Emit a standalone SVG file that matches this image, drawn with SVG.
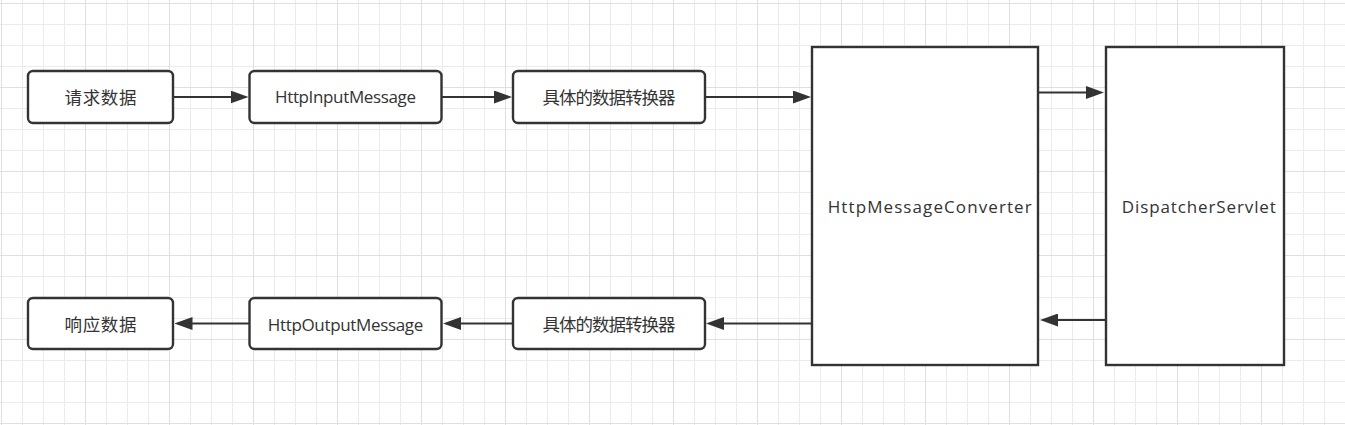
<svg xmlns="http://www.w3.org/2000/svg" width="1345" height="425" viewBox="0 0 1345 425">
  <style>
    .box { fill: #ffffff; stroke: #333333; stroke-width: 2.4; }
    .edge { fill: none; stroke: #333333; stroke-width: 2.2; marker-end: url(#arr); }
    .lat { font-family: "Open Sans", Inter, "Liberation Sans", "Noto Sans CJK SC", sans-serif; font-size: 17px; fill: #333333; text-anchor: middle; }
    .cjk { font-family: "Noto Sans CJK SC", "Noto Sans", sans-serif; font-size: 17.5px; fill: #333333; text-anchor: middle; }
  </style>
  <defs>
    <pattern id="grid" x="1" y="3" width="84" height="84" patternUnits="userSpaceOnUse">
      <path d="M21.5,0V84M42.5,0V84M63.5,0V84M0,21.5H84M0,42.5H84M0,63.5H84" stroke="#ebebeb" stroke-width="1" fill="none"/>
      <path d="M0.5,0V84M0,0.5H84" stroke="#dfdfdf" stroke-width="1" fill="none"/>
    </pattern>
    <marker id="arr" viewBox="0 0 18 13" refX="2" refY="6.5" markerWidth="18" markerHeight="13" markerUnits="userSpaceOnUse" orient="auto">
      <path d="M0,0 L18,6.5 L0,13 Z" fill="#333333"/>
    </marker>
  </defs>
  <rect x="0" y="0" width="1345" height="425" fill="#ffffff"/>
  <rect x="0" y="0" width="1345" height="425" fill="url(#grid)"/>

  <g id="connectors">
    <path class="edge" d="M173,97 H232.5"/>
    <path class="edge" d="M442,97 H496"/>
    <path class="edge" d="M705,97 H795"/>
    <path class="edge" d="M1039,92.5 H1088"/>
    <path class="edge" d="M1106,320 H1056"/>
    <path class="edge" d="M812,323.5 H722"/>
    <path class="edge" d="M513,323.5 H459"/>
    <path class="edge" d="M249.5,323.5 H190.5"/>
  </g>

  <g id="n_request">
    <rect class="box" x="28" y="71" width="145" height="52" rx="5"/>
    <text class="cjk" x="100.5" y="103.6" textLength="72">请求数据</text>
  </g>
  <g id="n_httpinput">
    <rect class="box" x="249.5" y="71" width="192" height="52" rx="5"/>
    <text class="lat" x="345.5" y="103.3" textLength="141" lengthAdjust="spacing">HttpInputMessage</text>
  </g>
  <g id="n_conv_in">
    <rect class="box" x="513" y="71" width="192" height="52" rx="5"/>
    <text class="cjk" x="609" y="103.6" textLength="133">具体的数据转换器</text>
  </g>
  <g id="n_hmc">
    <rect class="box" x="812" y="47" width="226" height="318"/>
    <text class="lat" x="929.7" y="213.3" textLength="204" lengthAdjust="spacing">HttpMessageConverter</text>
  </g>
  <g id="n_ds">
    <rect class="box" x="1106" y="47" width="178" height="318"/>
    <text class="lat" x="1198.8" y="213.3" textLength="154" lengthAdjust="spacing">DispatcherServlet</text>
  </g>
  <g id="n_response">
    <rect class="box" x="28" y="298" width="145" height="51" rx="5"/>
    <text class="cjk" x="100.5" y="330.6" textLength="72">响应数据</text>
  </g>
  <g id="n_httpoutput">
    <rect class="box" x="249.5" y="298" width="192" height="51" rx="5"/>
    <text class="lat" x="345.5" y="330.7" textLength="155.5" lengthAdjust="spacing">HttpOutputMessage</text>
  </g>
  <g id="n_conv_out">
    <rect class="box" x="513" y="298" width="192" height="51" rx="5"/>
    <text class="cjk" x="609" y="330.6" textLength="133">具体的数据转换器</text>
  </g>
</svg>
